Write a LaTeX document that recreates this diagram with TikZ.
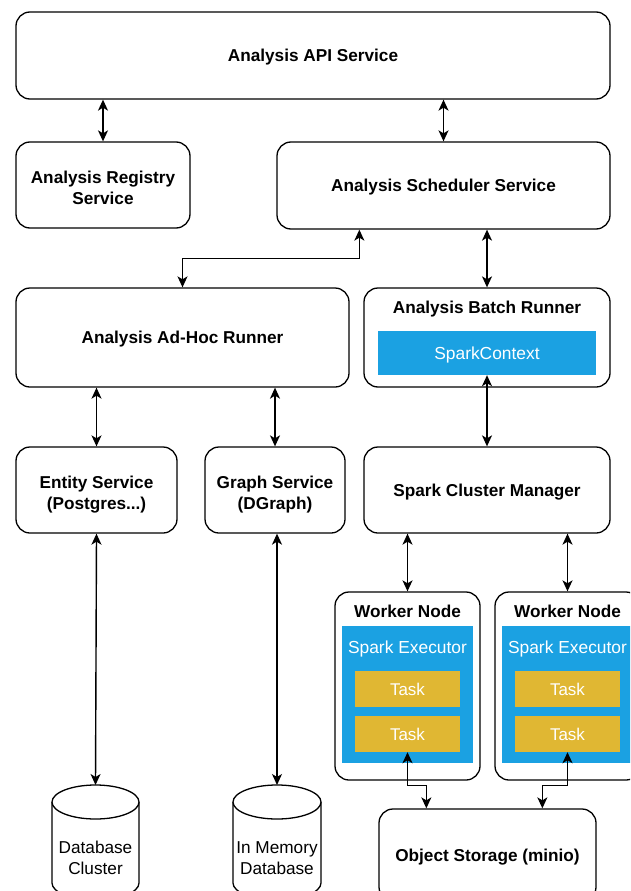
\documentclass[tikz,border=0pt]{standalone}
\usepackage{fontspec}
\setmainfont{Liberation Sans}
\usetikzlibrary{arrows.meta}
\definecolor{sparkblue}{HTML}{1BA1E2}
\definecolor{taskyellow}{HTML}{E0B733}
\newcommand{\twoln}[2]{\raisebox{7pt}{\begin{tabular}{@{}c@{}}#1\\#2\end{tabular}}}
\begin{document}
\begin{tikzpicture}[x=1pt,y=-1pt,
  box/.style={draw, line width=1.3pt, rounded corners=14pt, fill=white, align=center, inner sep=0pt,
    text depth=0pt, font=\fontsize{17.2}{21}\selectfont\bfseries},
  lbl/.style={inner sep=0pt, text depth=0pt, font=\fontsize{17.2}{21}\selectfont\bfseries},
  bluebox/.style={fill=sparkblue, text=white, inner sep=0pt, text depth=0pt, font=\fontsize{17.4}{21}\selectfont},
  taskbox/.style={fill=taskyellow, text=white, inner sep=0pt, font=\fontsize{17}{21}\selectfont,
    minimum width=105pt, minimum height=36pt},
  dbtext/.style={inner sep=0pt, align=center, font=\fontsize{17.2}{21.5}\selectfont},
  cyl/.style={line width=1.3pt, fill=white},
  conn/.style={line width=1.4pt, {Stealth[length=11pt,width=10pt,inset=3pt]}-{Stealth[length=11pt,width=10pt,inset=3pt]}}
]
\clip (0,0) rectangle (630,891);
\fill[white] (0,0) rectangle (630,891);

% top boxes
\node[box, minimum width=594pt, minimum height=87pt] (api) at (313,55.5) {Analysis API Service};
\node[box, minimum width=174pt, minimum height=86pt] (reg) at (103,185) {\twoln{Analysis Registry}{Service}};
\node[box, minimum width=333pt, minimum height=87pt] (sched) at (443.5,185.5) {Analysis Scheduler Service};

% runners
\node[box, minimum width=333pt, minimum height=99pt] (adhoc) at (182.5,337.5) {Analysis Ad-Hoc Runner};
\node[box, minimum width=246pt, minimum height=99pt] (batch) at (487,337.5) {};
\node[lbl] (batchlbl) at (487,307) {Analysis Batch Runner};
\node[bluebox, minimum width=218pt, minimum height=44pt] (spark) at (487,353) {SparkContext};

% services
\node[box, minimum width=161pt, minimum height=86pt] (entity) at (96.5,490) {\twoln{Entity Service}{(Postgres...)}};
\node[box, minimum width=140pt, minimum height=86pt] (graph) at (275,490) {\twoln{Graph Service}{(DGraph)}};
\node[box, minimum width=246pt, minimum height=86pt] (cm) at (487,490) {Spark Cluster Manager};

% worker nodes
\node[box, minimum width=145pt, minimum height=188pt] (w1) at (407.5,686) {};
\node[lbl] (w1lbl) at (407.5,611) {Worker Node};
\node[bluebox, minimum width=131pt, minimum height=137pt] (e1) at (407.5,694.5) {};
\node[bluebox] (e1lbl) at (407.5,647) {Spark Executor};
\node[taskbox] (t1a) at (407.5,689) {Task};
\node[taskbox] (t1b) at (407.5,734) {Task};

\node[box, minimum width=145pt, minimum height=188pt] (w2) at (567.5,686) {};
\node[lbl] (w2lbl) at (567.5,611) {Worker Node};
\node[bluebox, minimum width=131pt, minimum height=137pt] (e2) at (567.5,694.5) {};
\node[bluebox] (e2lbl) at (567.5,647) {Spark Executor};
\node[taskbox] (t2a) at (567.5,689) {Task};
\node[taskbox] (t2b) at (567.5,734) {Task};

% object storage
\node[box, minimum width=217pt, minimum height=92pt] (os) at (487.5,855) {Object Storage (minio)};

% cylinders
\draw[cyl] (52,802) -- (52,883) arc[start angle=180, end angle=360, x radius=43.5pt, y radius=17pt] -- (139,802);
\draw[cyl] (95.5,802) ellipse [x radius=43.5pt, y radius=17pt];
\coordinate (dbtop) at (95.5,785);
\node[dbtext] (db) at (95.5,858) {Database\\Cluster};

\draw[cyl] (233,802) -- (233,883) arc[start angle=180, end angle=360, x radius=44pt, y radius=17pt] -- (321,802);
\draw[cyl] (277,802) ellipse [x radius=44pt, y radius=17pt];
\coordinate (memtop) at (277,785);
\node[dbtext] (mem) at (277,858) {In Memory\\Database};

% connectors
\draw[conn] (api.south -| reg.north) -- (reg.north);
\draw[conn] (api.south -| sched.north) -- (sched.north);
\draw[conn] ([xshift=83pt]sched.south west) -- ++(0,29) -| (adhoc.north);
\draw[conn] (sched.south -| batch.north) -- (batch.north);
\draw[conn] (spark.south) -- (cm.north);
\draw[conn] (adhoc.south -| entity.north) -- (entity.north);
\draw[conn] (adhoc.south -| graph.north) -- (graph.north);
\draw[conn] (entity.south) -- (dbtop);
\draw[conn] (graph.south -| memtop) -- (memtop);
\draw[conn] (cm.south -| w1.north) -- (w1.north);
\draw[conn] (cm.south -| w2.north) -- (w2.north);
\draw[conn] (t1b.south) -- ++(0,33) -| ([xshift=48pt]os.north west);
\draw[conn] (t2b.south) -- ++(0,33) -| ([xshift=164pt]os.north west);
\end{tikzpicture}
\end{document}
